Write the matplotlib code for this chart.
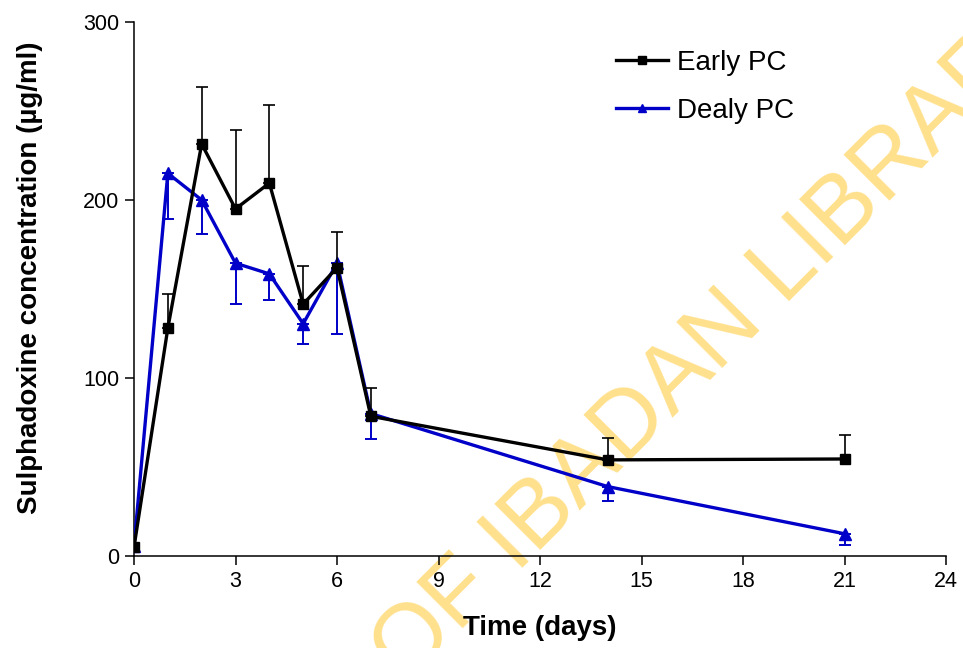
import matplotlib
matplotlib.use("Agg")
import matplotlib.pyplot as plt

plt.rcParams['font.family'] = ['Liberation Sans', 'DejaVu Sans']

# Sampling days and mean sulphadoxine concentrations (µg/ml) with SD
days = [0, 1, 2, 3, 4, 5, 6, 7, 14, 21]
early_pc = [5, 128, 231.5, 195, 209.5, 141.5, 162, 78.5, 54, 54.5]
early_sd = [0, 19, 32, 44.5, 44, 21.5, 20, 16, 12.5, 13.5]
dealy_pc = [5.5, 215, 200, 164.5, 158.5, 130.5, 164.5, 80, 39, 12.5]
dealy_sd = [2, 25.5, 19, 23, 14.5, 11.5, 40, 14, 8, 6.5]

series_labels = ["Early PC", "Dealy PC"]
x_ticks = [0, 3, 6, 9, 12, 15, 18, 21, 24]
y_ticks = [0, 100, 200, 300]

BLUE = "#0000C8"

fig = plt.figure(figsize=(9.63, 6.48), dpi=100)
ax = fig.add_axes([134 / 963, 1 - 556 / 648, 812 / 963, 534 / 648])
ax.set_facecolor('none')

# Library watermark behind the plot
fig.text(-13 / 963, 1 - 1103 / 648, "UNIVERSITY OF IBADAN LIBRARY",
         rotation=45, rotation_mode='anchor', ha='left', va='baseline',
         fontsize=68, color='#FFE08C', zorder=-1)

zeros = [0] * len(days)

# Delayed PC: downward error bars only
ax.errorbar(days, dealy_pc, yerr=[dealy_sd, zeros], fmt='none', ecolor=BLUE,
            capsize=4, elinewidth=1.4, capthick=1.4, zorder=3)
ax.plot(days, dealy_pc, color=BLUE, lw=2.4, marker='^', markersize=8.5,
        label=series_labels[1], zorder=3)
# Early PC: upward error bars only
ax.errorbar(days, early_pc, yerr=[zeros, early_sd], fmt='none', ecolor='black',
            capsize=4, elinewidth=1.2, capthick=1.2, zorder=4)
ax.plot(days, early_pc, color='black', lw=2.4, marker='s', markersize=7,
        label=series_labels[0], zorder=4)

ax.set_xlim(0, 24)
ax.set_ylim(0, 300)
ax.set_xticks(x_ticks)
ax.set_yticks(y_ticks)
for s in ('top', 'right'):
    ax.spines[s].set_visible(False)
for s in ('left', 'bottom'):
    ax.spines[s].set_linewidth(1.1)
ax.tick_params(direction='out', length=6.5, width=1.1, labelsize=15.5, pad=4)

ax.set_xlabel("Time (days)", fontsize=20, fontweight='bold', va='center')
ax.set_ylabel("Sulphadoxine concentration (µg/ml)", fontsize=20,
              fontweight='bold', va='center')
ax.xaxis.set_label_coords(0.5, -0.135)
ax.yaxis.set_label_coords(-0.128, 0.522)

handles, labels = ax.get_legend_handles_labels()
order = [1, 0]
leg = ax.legend([handles[i] for i in order], [labels[i] for i in order],
                loc='upper left', bbox_to_anchor=(616 / 963, 1 - 50 / 648),
                bbox_transform=fig.transFigure, frameon=False, fontsize=20,
                handlelength=1.87, handletextpad=0.32, labelspacing=0.8,
                markerscale=0.75, borderaxespad=0, borderpad=0)

fig.savefig("out.png", dpi=100)
